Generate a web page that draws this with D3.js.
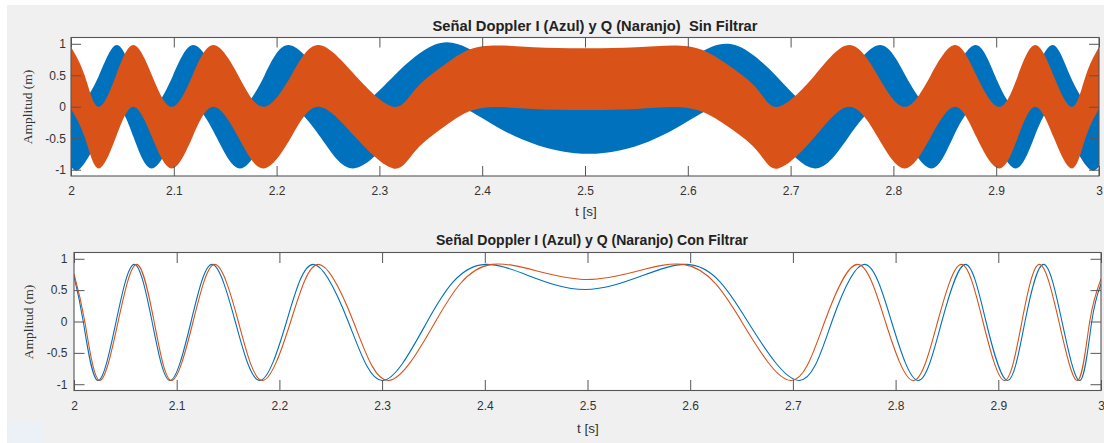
<!DOCTYPE html>
<html>
<head>
<meta charset="utf-8">
<script src="https://cdn.jsdelivr.net/npm/d3@7"></script>
<style>
  html, body { margin: 0; padding: 0; background: #ffffff; }
  svg { display: block; }
  text.title { white-space: pre; }
</style>
</head>
<body>
<svg id="fig" width="1104" height="443"></svg>
<script>
// ---- tick values and labels shared by both panels ----
const xTicks = [2, 2.1, 2.2, 2.3, 2.4, 2.5, 2.6, 2.7, 2.8, 2.9, 3];
const xTickLabels = ["2", "2.1", "2.2", "2.3", "2.4", "2.5", "2.6", "2.7", "2.8", "2.9", "3"];
const yTicks = [-1, -0.5, 0, 0.5, 1];
const yTickLabels = ["-1", "-0.5", "0", "0.5", "1"];

// ---- unfiltered I / Q: slow baseband component (band centre) ----
const rawI_t   = [2.000, 2.009, 2.027, 2.0444, 2.061, 2.0785, 2.099, 2.119, 2.1417, 2.1644, 2.188, 2.2114, 2.243, 2.2746, 2.314, 2.353, 2.3865, 2.432, 2.4968, 2.5616, 2.610, 2.646, 2.686, 2.7237, 2.756, 2.787, 2.812, 2.837, 2.858, 2.880, 2.899, 2.919, 2.937, 2.955, 2.972, 2.990, 3.000];
const rawI_mid = [-0.46, -0.49, 0, 0.49, 0, -0.49, 0, 0.49, 0, -0.49, 0, 0.49, 0, -0.49, 0, 0.49, 0.435, 0.02, -0.255, -0.065, 0.355, 0.49, 0, -0.49, 0, 0.49, 0, -0.49, 0, 0.49, 0, -0.49, 0, 0.49, 0, -0.49, -0.46];

const rawQ_t   = [2.000, 2.0135, 2.0266, 2.0436, 2.0606, 2.079, 2.098, 2.118, 2.1385, 2.163, 2.187, 2.214, 2.2406, 2.277, 2.3135, 2.3356, 2.367, 2.400, 2.450, 2.500, 2.550, 2.600, 2.635, 2.667, 2.688, 2.723, 2.757, 2.785, 2.811, 2.836, 2.860, 2.881, 2.903, 2.921, 2.938, 2.956, 2.974, 2.987, 3.000];
const rawQ_mid = [0.46, 0, -0.49, 0, 0.49, 0, -0.49, 0, 0.49, 0, -0.49, 0, 0.49, 0, -0.49, -0.2, 0.22, 0.47, 0.455, 0.44, 0.455, 0.47, 0.22, -0.2, -0.49, 0, 0.49, 0, -0.49, 0, 0.49, 0, -0.49, 0, 0.49, 0, -0.49, 0, 0.46];

// half swing of the fast (2·fc) mixing term riding on top of the baseband
const rawCarrierHalfSwing = 0.49;

// ---- low-pass filtered I / Q ----
const filtI_t = [2.000, 2.009, 2.023, 2.041, 2.0587, 2.076, 2.0935, 2.114, 2.1344, 2.157, 2.1808, 2.207, 2.233, 2.267, 2.3003, 2.344, 2.4009, 2.4976, 2.5966, 2.656, 2.706, 2.738, 2.7696, 2.796, 2.822, 2.845, 2.868, 2.888, 2.909, 2.926, 2.944, 2.962, 2.9796, 2.991, 3.000];
const filtI_v = [0.72, 0, -0.94, 0, 0.91, 0, -0.94, 0, 0.91, 0, -0.94, 0, 0.91, 0, -0.94, 0, 0.91, 0.51, 0.91, 0, -0.94, 0, 0.91, 0, -0.94, 0, 0.91, 0, -0.94, 0, 0.91, 0, -0.94, 0, 0.60];

const filtQ_t = [2.000, 2.0105, 2.0247, 2.043, 2.061, 2.078, 2.095, 2.116, 2.137, 2.160, 2.1834, 2.211, 2.238, 2.272, 2.306, 2.352, 2.4067, 2.500, 2.5933, 2.650, 2.698, 2.731, 2.763, 2.790, 2.8173, 2.841, 2.864, 2.885, 2.906, 2.923, 2.940, 2.959, 2.9773, 2.989, 3.000];
const filtQ_v = [0.76, 0, -0.94, 0, 0.91, 0, -0.94, 0, 0.91, 0, -0.94, 0, 0.91, 0, -0.94, 0, 0.91, 0.67, 0.91, 0, -0.94, 0, 0.91, 0, -0.94, 0, 0.91, 0, -0.94, 0, 0.91, 0, -0.94, 0, 0.68];

// ---- styling ----
const BLUE = "#0072BD";
const ORANGE = "#D95319";
const AXIS = "#565656";
const TXT = "#333333";
const SANS = "'Liberation Sans', Arial, Helvetica, sans-serif";
const SERIF = "'Liberation Serif', 'Times New Roman', serif";

const svg = d3.select("#fig");

// figure background
svg.append("rect").attr("x", 7).attr("y", 5).attr("width", 1097).attr("height", 438).attr("fill", "#f0f0f0");
svg.append("rect").attr("x", 7).attr("y", 422).attr("width", 36).attr("height", 21).attr("fill", "#ecf1f8");

const zip = (ts, vs) => ts.map((t, i) => ({ t: t, v: vs[i] }));

function panel(cfg) {
  const x = d3.scaleLinear().domain([2, 3]).range([cfg.left, cfg.right]);
  const y = d3.scaleLinear().domain([-1.1, 1.1]).range([cfg.bottom, cfg.top]);
  const g = svg.append("g");

  g.append("rect")
    .attr("x", cfg.left).attr("y", cfg.top)
    .attr("width", cfg.right - cfg.left).attr("height", cfg.bottom - cfg.top)
    .attr("fill", "#ffffff");

  const clipId = "clip" + cfg.id;
  svg.append("clipPath").attr("id", clipId)
    .append("rect")
    .attr("x", cfg.left).attr("y", cfg.top)
    .attr("width", cfg.right - cfg.left).attr("height", cfg.bottom - cfg.top);

  const plot = g.append("g").attr("clip-path", "url(#" + clipId + ")");
  cfg.draw(plot, x, y);

  const tick = cfg.tick;
  // bottom axis with labels
  const ax = g.append("g").attr("transform", "translate(0," + cfg.bottom + ")")
    .call(d3.axisBottom(x).tickValues(xTicks)
      .tickFormat((d, i) => xTickLabels[i])
      .tickSizeInner(-tick).tickSizeOuter(0).tickPadding(cfg.xPad));
  // top axis, ticks only
  const axT = g.append("g").attr("transform", "translate(0," + cfg.top + ")")
    .call(d3.axisTop(x).tickValues(xTicks).tickFormat("")
      .tickSizeInner(-tick).tickSizeOuter(0));
  // left axis with labels
  const ay = g.append("g").attr("transform", "translate(" + cfg.left + ",0)")
    .call(d3.axisLeft(y).tickValues(yTicks)
      .tickFormat((d, i) => yTickLabels[i])
      .tickSizeInner(-tick).tickSizeOuter(0).tickPadding(cfg.yPad));
  // right axis, ticks only
  const ayR = g.append("g").attr("transform", "translate(" + cfg.right + ",0)")
    .call(d3.axisRight(y).tickValues(yTicks).tickFormat("")
      .tickSizeInner(-tick).tickSizeOuter(0));

  [ax, axT, ay, ayR].forEach(a => {
    a.select(".domain").remove();
    a.selectAll("line").attr("stroke", AXIS).attr("stroke-width", 1);
    a.selectAll("text").attr("fill", TXT).attr("font-family", SANS).attr("font-size", 12);
  });

  // axes box
  g.append("rect")
    .attr("x", cfg.left).attr("y", cfg.top)
    .attr("width", cfg.right - cfg.left).attr("height", cfg.bottom - cfg.top)
    .attr("fill", "none").attr("stroke", AXIS).attr("stroke-width", 1.1);

  // title
  g.append("text")
    .attr("class", "title")
    .attr("x", cfg.titleX).attr("y", cfg.titleY)
    .attr("text-anchor", "middle")
    .attr("font-family", SANS).attr("font-weight", "bold").attr("font-size", 14)
    .attr("fill", "#222222")
    .attr("textLength", cfg.titleLen).attr("lengthAdjust", "spacingAndGlyphs")
    .text(cfg.title);

  // x label
  g.append("text")
    .attr("x", cfg.xLabX).attr("y", cfg.xLabY)
    .attr("text-anchor", "middle")
    .attr("font-family", SANS).attr("font-size", 13.5).attr("fill", TXT)
    .text("t [s]");

  // y label
  g.append("text")
    .attr("transform", "translate(" + cfg.yLabX + "," + cfg.yLabY + ") rotate(-90)")
    .attr("text-anchor", "middle")
    .attr("font-family", SERIF).attr("font-size", 13.5).attr("fill", TXT)
    .text("Amplitud (m)");
}

// ---- top panel: unfiltered I / Q as carrier bands ----
panel({
  id: "Top", left: 71, right: 1099, top: 37.5, bottom: 176, tick: 10,
  xPad: 10.5, yPad: 5,
  title: "Señal Doppler I (Azul) y Q (Naranjo)\u00a0 Sin Filtrar",
  titleX: 595, titleY: 30.5, titleLen: 325,
  xLabX: 586, xLabY: 216, yLabX: 32, yLabY: 107,
  draw: (p, x, y) => {
    const band = d3.area()
      .x(d => x(d.t))
      .y0(d => y(d.v - rawCarrierHalfSwing))
      .y1(d => y(d.v + rawCarrierHalfSwing))
      .curve(d3.curveNatural);
    p.append("path").datum(zip(rawI_t, rawI_mid)).attr("d", band).attr("fill", BLUE);
    p.append("path").datum(zip(rawQ_t, rawQ_mid)).attr("d", band).attr("fill", ORANGE);
  }
});

// ---- bottom panel: filtered I / Q ----
panel({
  id: "Bot", left: 74, right: 1101, top: 252.5, bottom: 390.5, tick: 10.5,
  xPad: 11, yPad: 6.5,
  title: "Señal Doppler I (Azul) y Q (Naranjo) Con Filtrar",
  titleX: 592, titleY: 245, titleLen: 312,
  xLabX: 588, xLabY: 433, yLabX: 33, yLabY: 322,
  draw: (p, x, y) => {
    const line = d3.line().x(d => x(d.t)).y(d => y(d.v)).curve(d3.curveNatural);
    p.append("path").datum(zip(filtI_t, filtI_v)).attr("d", line)
      .attr("fill", "none").attr("stroke", BLUE).attr("stroke-width", 1.1);
    p.append("path").datum(zip(filtQ_t, filtQ_v)).attr("d", line)
      .attr("fill", "none").attr("stroke", ORANGE).attr("stroke-width", 1.1);
  }
});
</script>
</body>
</html>
